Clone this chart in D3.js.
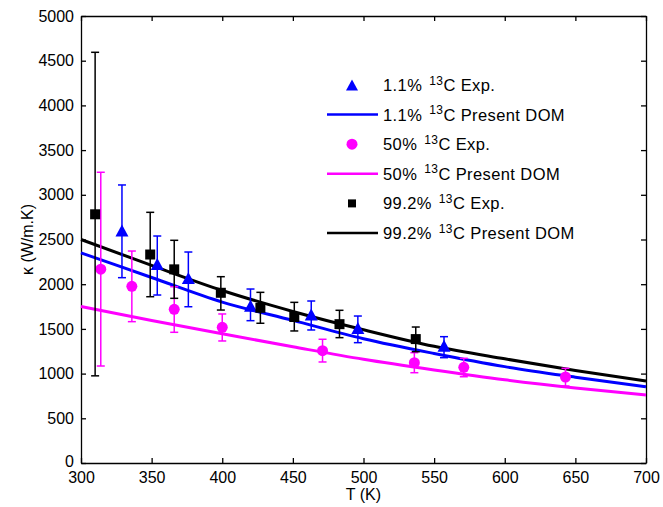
<!DOCTYPE html>
<html>
<head>
<meta charset="utf-8">
<script src="https://cdn.jsdelivr.net/npm/d3@7"></script>
<style>
  body { margin: 0; background: #fff; }
  svg { font-family: "Liberation Sans", Arial, Helvetica, sans-serif; }
  .axis path, .axis line { stroke: #000; stroke-width: 1.3; }
  .axis text { font-size: 16px; fill: #000; }
</style>
</head>
<body>
<div id="chart"></div>
<script>
// temperature grid for the model curves (K)
var curveT = [300, 350, 400, 450, 500, 550, 600, 650, 700];
var curveBlue = [2350, 2075, 1800, 1595, 1390, 1225, 1078, 960, 852];
var curveMagenta = [1750, 1595, 1445, 1300, 1160, 1040, 930, 838, 760];
var curveBlack = [2500, 2210, 1930, 1695, 1490, 1305, 1165, 1035, 917];

// experimental points
var blueT = [329, 354, 376, 420, 463, 496, 557];
var blueK = [2600, 2225, 2068, 1758, 1660, 1510, 1312];
var blueHi = [3110, 2539, 2360, 1946, 1812, 1644, 1413];
var blueLo = [2073, 1879, 1748, 1592, 1488, 1346, 1178];

var magT = [314, 336, 366, 400, 471, 536, 571, 643];
var magK = [2168, 1976, 1719, 1518, 1256, 1122, 1070, 962];
var magHi = [3252, 2371, 1972, 1667, 1384, 1234, 1171, 1059];
var magLo = [1085, 1581, 1462, 1365, 1130, 1010, 965, 861];

var blackT = [310, 349, 366, 399, 427, 451, 483, 537];
var blackK = [2782, 2332, 2166, 1904, 1736, 1633, 1553, 1386];
var blackHi = [4594, 2804, 2491, 2084, 1909, 1797, 1708, 1521];
var blackLo = [975, 1860, 1842, 1711, 1563, 1477, 1402, 1245];

var xTicks = [300, 350, 400, 450, 500, 550, 600, 650, 700];
var yTicks = [0, 500, 1000, 1500, 2000, 2500, 3000, 3500, 4000, 4500, 5000];

var legendPct = ["1.1%", "1.1%", "50%", "50%", "99.2%", "99.2%"];
var legendTail = ["C Exp.", "C Present DOM", "C Exp.", "C Present DOM", "C Exp.", "C Present DOM"];

var margin = {top: 16, right: 17, bottom: 44, left: 81},
    width = 663,
    height = 507,
    cw = width - margin.left - margin.right,
    ch = height - margin.top - margin.bottom;

var svg = d3.select("#chart").append("svg")
    .attr("width", width)
    .attr("height", height);

var x = d3.scaleLinear().domain([300, 700]).range([0, cw]);
var y = d3.scaleLinear().domain([0, 5000]).range([ch, 0]);

var g = svg.append("g")
    .attr("transform", "translate(" + margin.left + "," + margin.top + ")");

// axes, ticks pointing inward on all four sides
g.append("g").attr("class", "axis")
    .attr("transform", "translate(0," + ch + ")")
    .call(d3.axisBottom(x).tickValues(xTicks).tickSizeInner(-5).tickSizeOuter(0).tickPadding(9).tickFormat(d3.format("d")));
g.append("g").attr("class", "axis")
    .call(d3.axisTop(x).tickValues(xTicks).tickSizeInner(-5).tickSizeOuter(0).tickFormat(""));
g.append("g").attr("class", "axis y-left")
    .call(d3.axisLeft(y).tickValues(yTicks).tickSizeInner(-5).tickSizeOuter(0).tickPadding(7).tickFormat(d3.format("d")));
g.append("g").attr("class", "axis")
    .attr("transform", "translate(" + cw + ",0)")
    .call(d3.axisRight(y).tickValues(yTicks).tickSizeInner(-5).tickSizeOuter(0).tickFormat(""));

// the "0" label sits a touch higher so it clears the "300" below it
g.select(".y-left").selectAll(".tick text")
    .filter(function(d) { return d === 0; })
    .attr("dy", "0.2em");

// axis titles
svg.append("text")
    .attr("x", margin.left + cw / 2)
    .attr("y", 500)
    .attr("text-anchor", "middle")
    .style("font-size", "16px")
    .text("T (K)");
svg.append("text")
    .attr("transform", "translate(33," + (margin.top + ch / 2) + ") rotate(-90)")
    .attr("text-anchor", "middle")
    .style("font-size", "16px")
    .text("\u03BA (W/m.K)");

// model curves
var line = d3.line()
    .x(function(d) { return x(d[0]); })
    .y(function(d) { return y(d[1]); })
    .curve(d3.curveMonotoneX);

var curves = [
  {vals: curveMagenta, color: "#ff00ff"},
  {vals: curveBlue, color: "#0000ff"},
  {vals: curveBlack, color: "#000000"}
];
curves.forEach(function(c) {
  g.append("path")
      .datum(curveT.map(function(t, i) { return [t, c.vals[i]]; }))
      .attr("fill", "none")
      .attr("stroke", c.color)
      .attr("stroke-width", 3)
      .attr("d", line);
});

function triPath(s) {
  var h = s * 0.92;
  return "M0," + (-h / 2) + "L" + (s / 2) + "," + (h / 2) + "L" + (-s / 2) + "," + (h / 2) + "Z";
}

function drawSeries(T, K, hi, lo, color, shape) {
  var pts = T.map(function(t, i) { return {t: t, k: K[i], hi: hi[i], lo: lo[i]}; });
  var eg = g.append("g").attr("stroke", color).attr("stroke-width", 1.5);
  pts.forEach(function(d) {
    var px = x(d.t);
    eg.append("line").attr("x1", px).attr("x2", px).attr("y1", y(d.hi)).attr("y2", y(d.lo));
    eg.append("line").attr("x1", px - 4).attr("x2", px + 4).attr("y1", y(d.hi)).attr("y2", y(d.hi));
    eg.append("line").attr("x1", px - 4).attr("x2", px + 4).attr("y1", y(d.lo)).attr("y2", y(d.lo));
  });
  var mg = g.append("g").attr("fill", color);
  pts.forEach(function(d) {
    var px = x(d.t), py = y(d.k);
    if (shape === "tri") {
      mg.append("path").attr("transform", "translate(" + px + "," + py + ")").attr("d", triPath(13));
    } else if (shape === "circle") {
      mg.append("circle").attr("cx", px).attr("cy", py).attr("r", 5.5);
    } else {
      mg.append("rect").attr("x", px - 5).attr("y", py - 5).attr("width", 10).attr("height", 10);
    }
  });
}

drawSeries(magT, magK, magHi, magLo, "#ff00ff", "circle");
drawSeries(blueT, blueK, blueHi, blueLo, "#0000ff", "tri");
drawSeries(blackT, blackK, blackHi, blackLo, "#000000", "square");

// legend
var legColors = ["#0000ff", "#0000ff", "#ff00ff", "#ff00ff", "#000000", "#000000"];
var legY0 = 85, legStep = 29.6, legMx = 352, legTx = 383;
var leg = svg.append("g");
legendPct.forEach(function(p, i) {
  var ly = legY0 + i * legStep;
  var c = legColors[i];
  if (i % 2 === 1) {
    leg.append("line").attr("x1", 327).attr("x2", 378).attr("y1", ly).attr("y2", ly)
        .attr("stroke", c).attr("stroke-width", 2.5);
  } else if (i === 0) {
    leg.append("path").attr("transform", "translate(" + legMx + "," + ly + ")").attr("d", triPath(12)).attr("fill", c);
  } else if (i === 2) {
    leg.append("circle").attr("cx", legMx).attr("cy", ly).attr("r", 5.5).attr("fill", c);
  } else {
    leg.append("rect").attr("x", legMx - 4).attr("y", ly - 4).attr("width", 8).attr("height", 8).attr("fill", c);
  }
  var t = leg.append("text").attr("x", legTx).attr("y", ly + 6)
      .style("font-size", "16.5px").style("letter-spacing", "0.4px");
  t.append("tspan").text(p);
  t.append("tspan").attr("dx", 7).attr("dy", -6.5).style("font-size", "12px").text("13");
  t.append("tspan").attr("dy", 6.5).text(legendTail[i]);
});
</script>
</body>
</html>
